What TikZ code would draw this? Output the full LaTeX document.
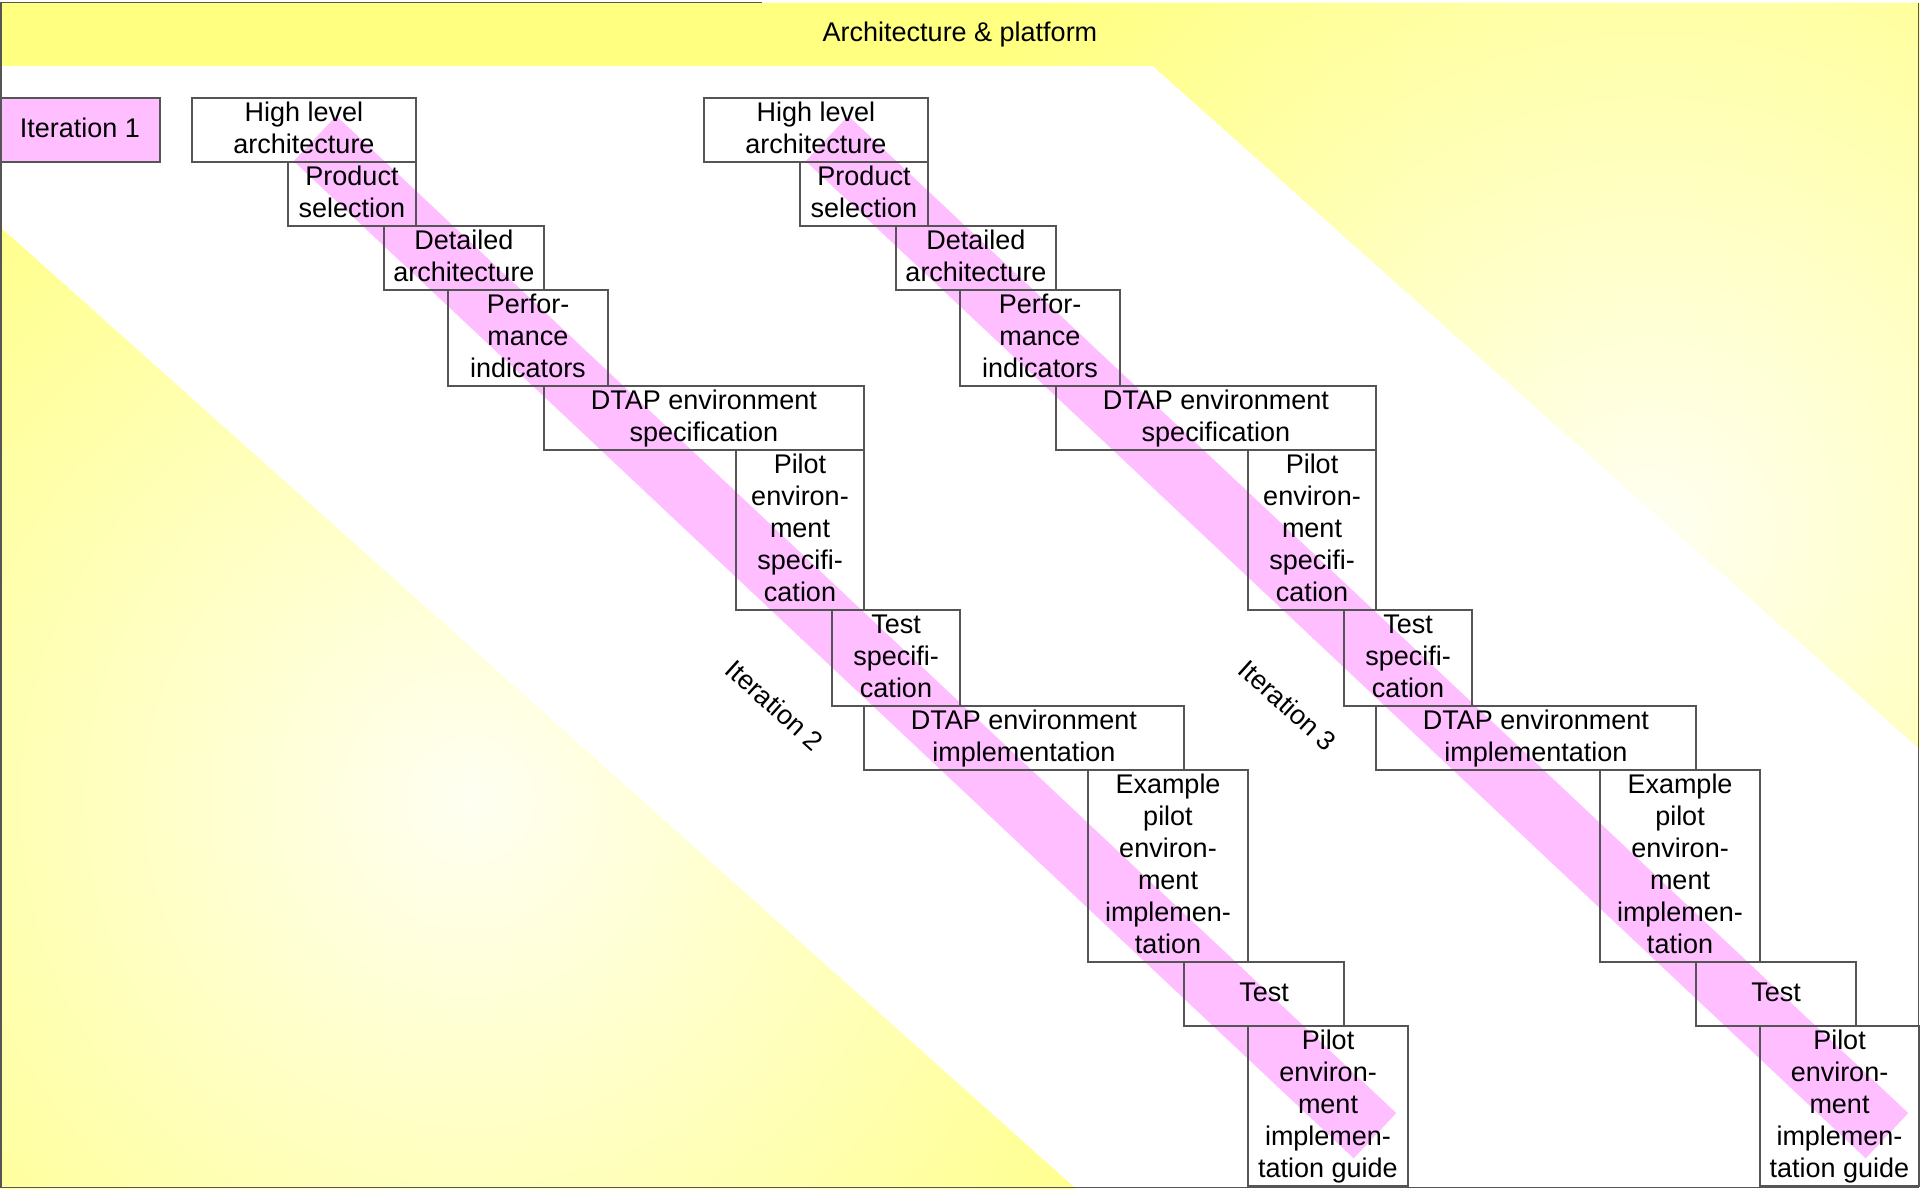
\documentclass[tikz,border=0pt]{standalone}
\usepackage{fontspec}
\setmainfont{Liberation Sans}
\definecolor{ylw}{RGB}{255,255,128}
\definecolor{pnk}{RGB}{255,190,255}
\definecolor{edge}{RGB}{85,85,85}
\newcommand\ls{\rule[-0.14cm]{0pt}{0.5cm}}
\newcommand\stg[6]{\node[stage, minimum width={((#4)-(#2))*0.015625cm}, minimum height={((#5)-(#3))*0.015625cm}] (#1) at ({((#2)+(#4))/2},{((#3)+(#5))/2}) {#6};}
\begin{document}
\begin{tikzpicture}[x=0.015625cm, y=-0.015625cm,
  every node/.style={font=\fontsize{12pt}{0.5cm}\selectfont},
  stage/.style={draw=edge, line width=0.6pt, rectangle, inner sep=0pt, outer sep=0pt, align=center},
  band/.style={draw=pnk, line width=0.97cm},
  frameline/.style={draw=edge, line width=0.6pt}]
\useasboundingbox (0,0) rectangle (1920,1189);
\fill[white] (0,0) rectangle (1920,1189);
% yellow areas
\begin{scope}
  \clip (0,3) -- (1920,3) -- (1920,749) -- (1153,66) -- (0,66) -- cycle;
  \fill[ylw] (0,0) rectangle (1920,1189);
  \shade[inner color=ylw!10, outer color=ylw] (1650,530) circle (12.5cm);
\end{scope}
\begin{scope}
  \clip (0,227) -- (1076,1189) -- (0,1189) -- cycle;
  \fill[ylw] (0,0) rectangle (1920,1189);
  \shade[inner color=ylw!10, outer color=ylw] (470,800) circle (13cm);
\end{scope}
\node (arch) at (960,34.5) {\ls Architecture \& platform};
% pink bands
\foreach \o/\c in {0/a,512/b}{
  \coordinate (s\c) at (315+\o,138.5);
  \coordinate (e\c) at (1375+\o,1135.7);
  \draw[band] (s\c) -- (e\c);
}
% iteration 1
\node[stage, fill=pnk, minimum width=2.5cm, minimum height=1cm] (it1) at (80,130) {\ls Iteration 1};
% stage boxes
\foreach \o/\c in {0/a,512/b}{
  \stg{hla\c}{192+\o}{98}{416+\o}{162}{\ls High level\\\ls architecture}
  \stg{ps\c}{288+\o}{162}{416+\o}{226}{\ls Product\\\ls selection}
  \stg{da\c}{384+\o}{226}{544+\o}{290}{\ls Detailed\\\ls architecture}
  \stg{pi\c}{448+\o}{290}{608+\o}{386}{\ls Perfor-\\\ls mance\\\ls indicators}
  \stg{dts\c}{544+\o}{386}{864+\o}{450}{\ls DTAP environment\\\ls specification}
  \stg{pes\c}{736+\o}{450}{864+\o}{610}{\ls Pilot\\\ls environ-\\\ls ment\\\ls specifi-\\\ls cation}
  \stg{ts\c}{832+\o}{610}{960+\o}{706}{\ls Test\\\ls specifi-\\\ls cation}
  \stg{dti\c}{864+\o}{706}{1184+\o}{770}{\ls DTAP environment\\\ls implementation}
  \stg{epe\c}{1088+\o}{770}{1248+\o}{962}{\ls Example\\\ls pilot\\\ls environ-\\\ls ment\\\ls implemen-\\\ls tation}
  \stg{tst\c}{1184+\o}{962}{1344+\o}{1026}{\ls Test}
}
\stg{pga}{1248}{1026}{1408}{1186}{\ls Pilot\\\ls environ-\\\ls ment\\\ls implemen-\\\ls tation guide}
\stg{pgb}{1760}{1026}{1919}{1186}{\ls Pilot\\\ls environ-\\\ls ment\\\ls implemen-\\\ls tation guide}
% rotated iteration labels
\node[rotate=-42] (it2) at (775,705) {Iteration 2};
\node[rotate=-42] (it3) at (1288,705) {Iteration 3};
% frame
\draw[frameline] (762,2.7) -- (1,2.7) -- (1,1187.5) -- (1918.7,1187.5) -- (1918.7,2.7);
\end{tikzpicture}
\end{document}
